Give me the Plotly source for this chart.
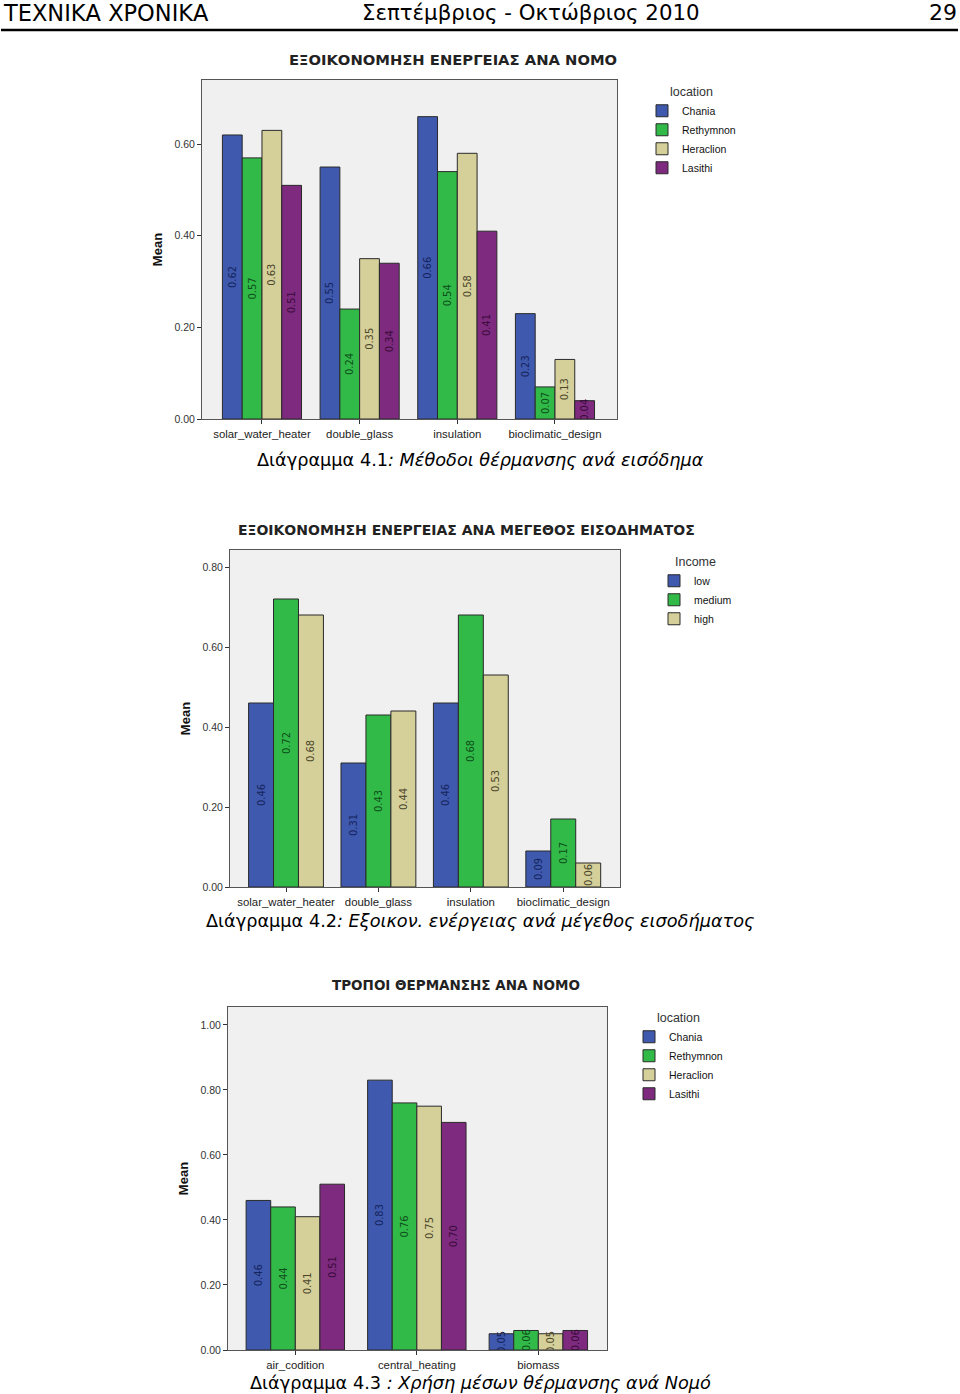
import plotly.graph_objects as go

# ---------------- data ----------------
cats1 = ["solar_water_heater", "double_glass", "insulation", "bioclimatic_design"]
loc_names = ["Chania", "Rethymnon", "Heraclion", "Lasithi"]
chania1 = [0.62, 0.55, 0.66, 0.23]
rethymnon1 = [0.57, 0.24, 0.54, 0.07]
heraclion1 = [0.63, 0.35, 0.58, 0.13]
lasithi1 = [0.51, 0.34, 0.41, 0.04]

cats2 = ["solar_water_heater", "double_glass", "insulation", "bioclimatic_design"]
income_names = ["low", "medium", "high"]
low2 = [0.46, 0.31, 0.46, 0.09]
medium2 = [0.72, 0.43, 0.68, 0.17]
high2 = [0.68, 0.44, 0.53, 0.06]

cats3 = ["air_codition", "central_heating", "biomass"]
chania3 = [0.46, 0.83, 0.05]
rethymnon3 = [0.44, 0.76, 0.06]
heraclion3 = [0.41, 0.75, 0.05]
lasithi3 = [0.51, 0.70, 0.06]

yticks1 = [0.0, 0.2, 0.4, 0.6]
yticks2 = [0.0, 0.2, 0.4, 0.6, 0.8]
yticks3 = [0.0, 0.2, 0.4, 0.6, 0.8, 1.0]

# ---------------- style ----------------
W, H = 960, 1394
H_MAP = 1388  # effective rendered height used for placing elements
bar_colors = ["#3e59ad", "#32ba48", "#d5cf99", "#7e2a7f"]
text_colors = ["#15245e", "#0c4f1a", "#4b462a", "#3a0b3b"]
ARIAL = "Liberation Sans, Arial, sans-serif"
NARROW = "Liberation Sans Narrow, Arial Narrow, DejaVu Sans Condensed, sans-serif"
VERD = "DejaVu Sans, Verdana, sans-serif"


def px_x(p):
    return p / W


def px_y(p):
    return 1 - p / H_MAP


fig = go.Figure()


def add_bars(cats, series, names, ax, legend_name):
    for i, (vals, nm) in enumerate(zip(series, names)):
        fig.add_trace(go.Bar(
            x=cats, y=vals, name=nm,
            xaxis="x" + ax, yaxis="y" + ax, legend=legend_name,
            offsetgroup=str(i),
            marker=dict(color=bar_colors[i], line=dict(color="#2a2a2a", width=1)),
            texttemplate="%{y:.2f}", textposition="inside", textangle=-90,
            insidetextanchor="middle", constraintext="none",
            textfont=dict(family=NARROW, size=11, color=text_colors[i]),
            hoverinfo="x+y+name",
        ))


add_bars(cats1, [chania1, rethymnon1, heraclion1, lasithi1], loc_names, "", "legend")
add_bars(cats2, [low2, medium2, high2], income_names, "2", "legend2")
add_bars(cats3, [chania3, rethymnon3, heraclion3, lasithi3], loc_names, "3", "legend3")

axis_common = dict(showline=True, mirror=True, linecolor="#555555", linewidth=1,
                   showgrid=False, zeroline=False, ticks="outside", ticklen=4,
                   tickcolor="#333333")

panels = [
    ("", 202, 617, 80, 419, 0.74, [-0.614, 3.635], yticks1),
    ("2", 230, 620, 550, 887, 0.8425, [-0.606, 3.614], yticks2),
    ("3", 228, 607, 1007, 1350, 1.055, [-0.554, 2.565], yticks3),
]
for suf, x0, x1, yt, yb, ymax, xr, ytk in panels:
    anchor_x = "y" + suf if suf else "y"
    anchor_y = "x" + suf if suf else "x"
    fig.layout["xaxis" + suf] = dict(axis_common, domain=[px_x(x0), px_x(x1)],
                                     range=xr, anchor=anchor_x, type="category",
                                     tickfont=dict(family=ARIAL, size=11.4, color="#222222"))
    fig.layout["yaxis" + suf] = dict(axis_common, domain=[px_y(yb), px_y(yt)],
                                     range=[0, ymax], anchor=anchor_y,
                                     tickvals=ytk, tickformat=".2f",
                                     tickfont=dict(family=ARIAL, size=10.5, color="#333333"),
                                     title=dict(text="<b>Mean</b>", standoff=8,
                                                font=dict(family=ARIAL, size=13,
                                                          color="#111111")))

# legends
leg_common = dict(xanchor="left", yanchor="top", bgcolor="rgba(0,0,0,0)",
                  font=dict(family=ARIAL, size=10.5, color="#111111"),
                  itemwidth=30, tracegroupgap=0, traceorder="normal",
                  itemclick=False, itemdoubleclick=False)
leg_title_font = dict(family=ARIAL, size=12.5, color="#333")
fig.update_layout(
    legend=dict(leg_common, x=px_x(642), y=px_y(80),
                title=dict(text="location", side="top center", font=leg_title_font)),
    legend2=dict(leg_common, x=px_x(654), y=px_y(550),
                 title=dict(text="Income", side="top center", font=leg_title_font)),
    legend3=dict(leg_common, x=px_x(629), y=px_y(1006),
                 title=dict(text="location", side="top center", font=leg_title_font)),
)

annotations = []
# chart titles
for txt, cx, cy, fs in [("ΕΞΟΙΚΟΝΟΜΗΣΗ ΕΝΕΡΓΕΙΑΣ ΑΝΑ ΝΟΜΟ", 453, 60, 14.75),
                        ("ΕΞΟΙΚΟΝΟΜΗΣΗ ΕΝΕΡΓΕΙΑΣ ΑΝΑ ΜΕΓΕΘΟΣ ΕΙΣΟΔΗΜΑΤΟΣ", 466, 530, 14.0),
                        ("ΤΡΟΠΟΙ ΘΕΡΜΑΝΣΗΣ ΑΝΑ ΝΟΜΟ", 456, 985, 13.5)]:
    annotations.append(dict(text="<b>" + txt + "</b>", x=px_x(cx), y=px_y(cy),
                            xref="paper", yref="paper", showarrow=False,
                            xanchor="center", yanchor="middle",
                            font=dict(family=VERD, size=fs, color="#222222")))
# captions
for txt, cx, cy in [("Διάγραμμα 4.1<i>: Μέθοδοι θέρμανσης ανά εισόδημα</i>", 480, 460),
                    ("Διάγραμμα 4.2<i>: Εξοικον. ενέργειας ανά μέγεθος εισοδήματος</i>", 480, 921),
                    ("Διάγραμμα 4.3 <i>: Χρήση μέσων θέρμανσης ανά Νομό</i>", 480, 1383)]:
    annotations.append(dict(text=txt, x=px_x(cx), y=px_y(cy), xref="paper", yref="paper",
                            showarrow=False, xanchor="center", yanchor="middle",
                            font=dict(family=VERD, size=17.7, color="#000000")))
# page header
annotations += [
    dict(text="ΤΕΧΝΙΚΑ ΧΡΟΝΙΚΑ", x=px_x(1), y=px_y(13), xanchor="left",
         font=dict(family=VERD, size=22.5, color="#000000")),
    dict(text="Σεπτέμβριος - Οκτώβριος 2010", x=px_x(531), y=px_y(13), xanchor="center",
         font=dict(family=VERD, size=21.3, color="#000000")),
    dict(text="29", x=px_x(959), y=px_y(13), xanchor="right",
         font=dict(family=VERD, size=22, color="#000000")),
]
for a in annotations[-3:]:
    a.update(xref="paper", yref="paper", showarrow=False, yanchor="middle")

fig.update_layout(
    width=W, height=H, autosize=False, margin=dict(l=0, r=0, t=0, b=0, pad=0),
    paper_bgcolor="#ffffff", plot_bgcolor="#f0f0f0",
    barmode="group", bargap=0.19, bargroupgap=0,
    annotations=annotations,
    shapes=[dict(type="line", xref="paper", yref="paper", x0=px_x(1), x1=px_x(958),
                 y0=px_y(30), y1=px_y(30), line=dict(color="#000", width=2.5))],
    showlegend=True,
)

fig.write_html("out.html",
               config={"displayModeBar": False, "responsive": False},
               post_script="document.body.style.margin='0';document.body.style.overflow='hidden';")
